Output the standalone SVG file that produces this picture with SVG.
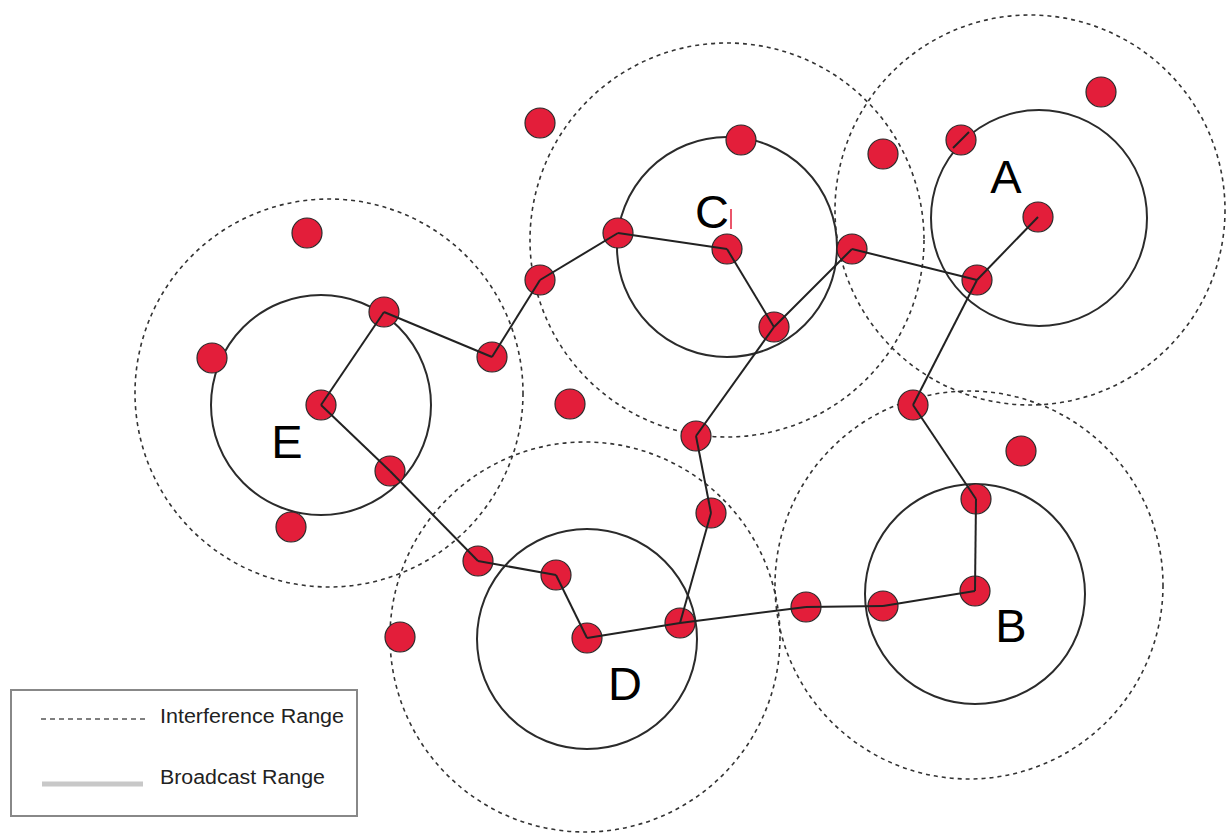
<svg xmlns="http://www.w3.org/2000/svg" width="1229" height="836" viewBox="0 0 1229 836">
  <style>
    .interf { fill: none; stroke: #333; stroke-width: 1.6; stroke-dasharray: 4 4; }
    .bcast { fill: none; stroke: #2b2b2b; stroke-width: 2; }
    .node { fill: #e31e3a; stroke: #2a2a2a; stroke-width: 1.2; }
    .link { stroke: #222; stroke-width: 2; fill: none; }
    .label { font-family: "Liberation Sans", Arial, sans-serif; font-size: 47px; fill: #000; text-anchor: middle; }
    .legend-text { font-family: "Liberation Sans", Arial, sans-serif; font-size: 20px; fill: #222; }
  </style>
  <rect width="1229" height="836" fill="#fff"/>

  <!-- cluster ranges -->
  <g id="ranges">
    <g id="range-A">
      <circle class="interf" cx="1030" cy="210" r="195"/>
      <circle class="bcast" cx="1039" cy="218" r="108"/>
    </g>
    <g id="range-C">
      <circle class="interf" cx="727" cy="240" r="197"/>
      <circle class="bcast" cx="727" cy="247" r="110"/>
    </g>
    <g id="range-E">
      <circle class="interf" cx="329" cy="393" r="194"/>
      <circle class="bcast" cx="321" cy="405" r="110"/>
    </g>
    <g id="range-D">
      <circle class="interf" cx="585" cy="637" r="195"/>
      <circle class="bcast" cx="587" cy="639" r="110"/>
    </g>
    <g id="range-B">
      <circle class="interf" cx="969" cy="585" r="194"/>
      <circle class="bcast" cx="975" cy="594" r="110"/>
    </g>
  </g>

  <!-- sensor nodes -->
  <g id="nodes">
    <g id="n1"><circle class="node" cx="1101" cy="92" r="15"/></g>
    <g id="n2"><circle class="node" cx="961" cy="140" r="15"/></g>
    <g id="n3"><circle class="node" cx="1038" cy="217" r="15"/></g>
    <g id="n4"><circle class="node" cx="977" cy="280" r="15"/></g>
    <g id="n5"><circle class="node" cx="883" cy="154" r="15"/></g>
    <g id="n6"><circle class="node" cx="852" cy="249" r="15"/></g>
    <g id="n7"><circle class="node" cx="741" cy="140" r="15"/></g>
    <g id="n8"><circle class="node" cx="618" cy="233" r="15"/></g>
    <g id="n9"><circle class="node" cx="727" cy="249" r="15"/></g>
    <g id="n10"><circle class="node" cx="774" cy="327" r="15"/></g>
    <g id="n11"><circle class="node" cx="540" cy="280" r="15"/></g>
    <g id="n12"><circle class="node" cx="540" cy="123" r="15"/></g>
    <g id="n13"><circle class="node" cx="307" cy="233" r="15"/></g>
    <g id="n14"><circle class="node" cx="384" cy="312" r="15"/></g>
    <g id="n15"><circle class="node" cx="212" cy="358" r="15"/></g>
    <g id="n16"><circle class="node" cx="321" cy="405" r="15"/></g>
    <g id="n17"><circle class="node" cx="492" cy="357" r="15"/></g>
    <g id="n18"><circle class="node" cx="570" cy="404" r="15"/></g>
    <g id="n19"><circle class="node" cx="696" cy="436" r="15"/></g>
    <g id="n20"><circle class="node" cx="913" cy="405" r="15"/></g>
    <g id="n21"><circle class="node" cx="1021" cy="451" r="15"/></g>
    <g id="n22"><circle class="node" cx="976" cy="499" r="15"/></g>
    <g id="n23"><circle class="node" cx="975" cy="591" r="15"/></g>
    <g id="n24"><circle class="node" cx="883" cy="606" r="15"/></g>
    <g id="n25"><circle class="node" cx="806" cy="607" r="15"/></g>
    <g id="n26"><circle class="node" cx="711" cy="513" r="15"/></g>
    <g id="n27"><circle class="node" cx="680" cy="623" r="15"/></g>
    <g id="n28"><circle class="node" cx="587" cy="638" r="15"/></g>
    <g id="n29"><circle class="node" cx="556" cy="575" r="15"/></g>
    <g id="n30"><circle class="node" cx="478" cy="561" r="15"/></g>
    <g id="n31"><circle class="node" cx="390" cy="471" r="15"/></g>
    <g id="n32"><circle class="node" cx="291" cy="527" r="15"/></g>
    <g id="n33"><circle class="node" cx="400" cy="637" r="15"/></g>
  </g>

  <!-- routing links between nodes -->
  <g id="links">
    <line class="link" x1="1038" y1="217" x2="977" y2="280"/>
    <line class="link" x1="977" y1="280" x2="852" y2="249"/>
    <line class="link" x1="977" y1="280" x2="913" y2="405"/>
    <line class="link" x1="913" y1="405" x2="976" y2="499"/>
    <line class="link" x1="976" y1="499" x2="975" y2="591"/>
    <line class="link" x1="975" y1="591" x2="883" y2="606"/>
    <line class="link" x1="883" y1="606" x2="806" y2="607"/>
    <line class="link" x1="806" y1="607" x2="680" y2="623"/>
    <line class="link" x1="680" y1="623" x2="587" y2="638"/>
    <line class="link" x1="680" y1="623" x2="711" y2="513"/>
    <line class="link" x1="711" y1="513" x2="696" y2="436"/>
    <line class="link" x1="696" y1="436" x2="774" y2="327"/>
    <line class="link" x1="774" y1="327" x2="852" y2="249"/>
    <line class="link" x1="727" y1="249" x2="774" y2="327"/>
    <line class="link" x1="727" y1="249" x2="618" y2="233"/>
    <line class="link" x1="618" y1="233" x2="540" y2="280"/>
    <line class="link" x1="540" y1="280" x2="492" y2="357"/>
    <line class="link" x1="492" y1="357" x2="384" y2="312"/>
    <line class="link" x1="384" y1="312" x2="321" y2="405"/>
    <line class="link" x1="321" y1="405" x2="390" y2="471"/>
    <line class="link" x1="390" y1="471" x2="478" y2="561"/>
    <line class="link" x1="478" y1="561" x2="556" y2="575"/>
    <line class="link" x1="556" y1="575" x2="587" y2="638"/>
    <line class="link" x1="953" y1="148" x2="969" y2="132"/>
  </g>

  <!-- cluster labels -->
  <g id="labels">
    <text class="label" x="1006" y="193">A</text>
    <text class="label" x="712" y="228">C</text>
    <line x1="731" y1="209" x2="731" y2="229" stroke="#e31e3a" stroke-width="1.5"/>
    <text class="label" x="287" y="458">E</text>
    <text class="label" x="625" y="700">D</text>
    <text class="label" x="1011" y="642">B</text>
  </g>

  <!-- legend -->
  <g id="legend">
    <rect x="11" y="690" width="346" height="126" fill="#fff" stroke="#888" stroke-width="2"/>
    <line x1="41" y1="719" x2="146" y2="719" stroke="#555" stroke-width="1.3" stroke-dasharray="5 4"/>
    <text class="legend-text" x="160" y="723" textLength="184" lengthAdjust="spacingAndGlyphs">Interference Range</text>
    <line x1="42" y1="784" x2="143" y2="784" stroke="#c8c8c8" stroke-width="5"/>
    <text class="legend-text" x="160" y="784" textLength="165" lengthAdjust="spacingAndGlyphs">Broadcast Range</text>
  </g>
</svg>
